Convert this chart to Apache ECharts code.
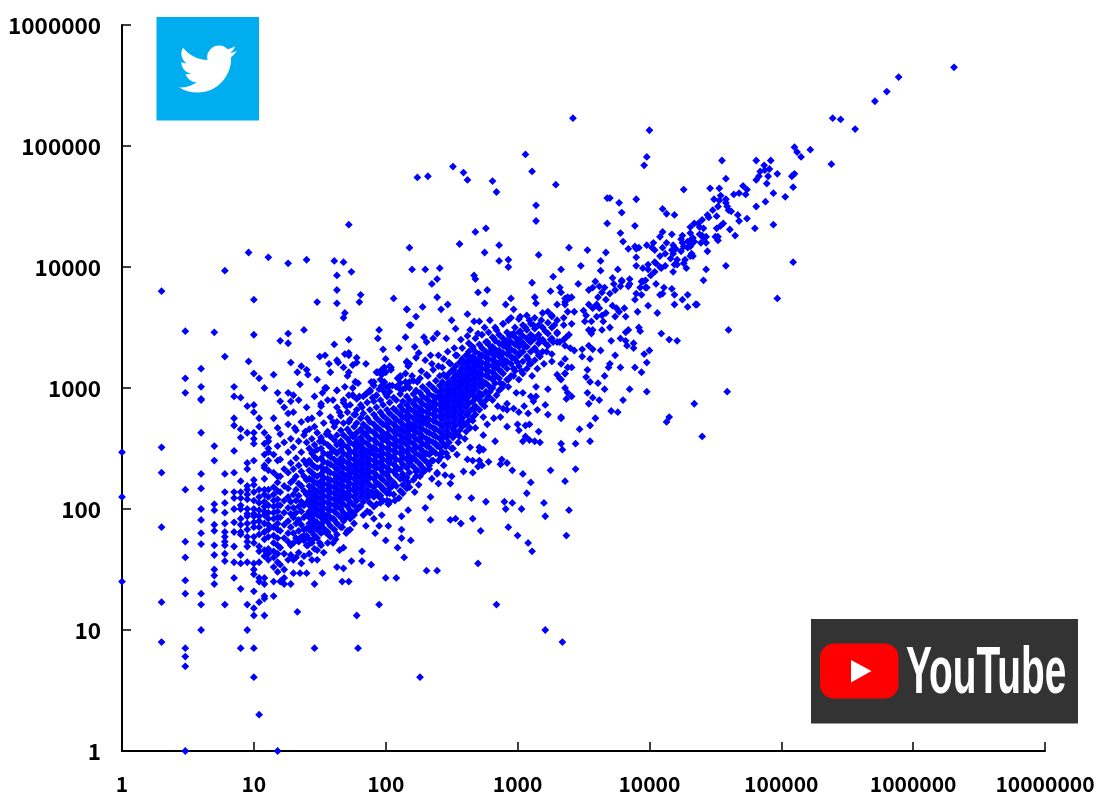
<!DOCTYPE html>
<html><head><meta charset="utf-8">
<style>html,body{margin:0;padding:0;background:#fff}#c{width:1100px;height:805px}</style>
<script src="https://cdn.jsdelivr.net/npm/echarts@6/dist/echarts.min.js"></script>
</head><body><div id="c"></div>
<script>
// Values, as decimal exponents (log10 of the value): log10(x), log10(y)
const xTickLabels=['1','10','100','1000','10000','100000','1000000','10000000'];
const yTickLabels=['1','10','100','1000','10000','100000','1000000'];
const topRight=[6.31,5.65,5.89,5.57,5.80,5.45,5.71,5.37,5.39,5.23,5.45,5.22,5.56,5.14,5.10,4.99,5.12,4.95,5.15,4.91,5.22,4.97,5.38,4.85,4.00,5.13,3.98,4.91,3.96,4.84,4.55,4.88,4.81,4.88,4.92,4.88,4.87,4.84,4.84,4.79,4.91,4.81,4.875,4.80,4.83,4.75,4.81,4.72,4.90,4.75,4.97,4.77,5.10,4.77,5.08,4.75,4.58,4.73,4.89,4.69,5.09,4.66,4.26,4.64,4.46,4.65,4.53,4.65,4.71,4.67,4.74,4.64,4.73,4.60,4.68,4.61,4.64,4.60,4.94,4.61,5.03,4.58,4.88,4.54,4.81,4.50,4.54,4.59,4.49,4.56,4.53,4.55,4.58,4.56,4.58,4.53,4.52,4.50,4.59,4.50,4.60,4.47,4.62,4.46,4.48,4.47,4.10,4.48,4.13,4.44,4.19,4.43,4.51,4.42,4.44,4.43,4.45,4.41,4.67,4.43,4.74,4.40,4.68,4.38,4.94,4.35,4.80,4.32,4.61,4.31,4.56,4.36,4.54,4.34,4.51,4.32,4.40,4.39,4.34,4.36,4.37,4.36,4.38,4.33,4.31,4.33,4.41,4.32,4.31,4.28,4.38,4.27,4.40,4.26,4.43,4.25,4.41,4.24,4.65,4.26,4.50,4.25,4.52,4.25,4.52,4.22,4.10,4.29,4.17,4.27,4.08,4.25,4.25,4.26,4.24,4.23,4.25,4.20,4.26,4.17,4.29,4.16,4.31,4.17,4.32,4.19,4.33,4.24,4.31,4.22,4.29,4.21,4.34,4.21,4.39,4.20,4.43,4.20,4.44,4.13,4.03,4.20,3.98,4.18,4.02,4.16,4.04,4.14,4.10,4.16,4.13,4.20,4.18,4.18,4.17,4.14,4.20,4.15,4.24,4.13,4.12,4.11,4.08,4.09,4.18,4.11,4.16,4.07,4.21,4.06,4.27,4.06,4.26,4.03,4.31,4.09,4.33,4.09,4.32,4.11,4.04,4.04,3.99,4.02,4.05,4.03,4.08,4.00,4.12,4.01,4.09,3.99,4.04,3.96,3.95,3.99,3.99,3.98,4.19,4.02,4.21,4.02,4.28,3.99,4.43,3.98,4.58,4.01,5.09,4.04,4.18,3.96,4.41,3.89,4.01,3.93,3.97,3.89,3.94,3.88,4.05,3.86,4.11,3.83,4.17,3.82,3.97,3.83];
const rightLower=[4.97,3.74,4.60,3.48,4.59,2.97,4.34,2.87,4.40,2.60,4.15,2.76,4.13,2.72,4.19,3.77,4.29,3.77,4.25,3.73,4.19,3.69,4.29,3.67,4.35,3.69,4.36,3.69,4.06,3.62,3.99,3.68,3.91,3.63,4.09,3.45,4.15,3.40,4.21,3.39,3.92,3.50,3.93,3.47,3.84,3.48,3.82,3.46,3.70,3.50,3.64,3.48,3.71,3.39,3.78,3.41,3.82,3.39,3.83,3.35,3.88,3.37,3.88,3.33,4.00,3.31,3.96,3.28,3.98,3.21,3.94,3.13,3.89,3.17,3.78,3.17,3.74,3.27,3.70,3.20,3.69,3.17,3.63,3.31,3.55,3.24,3.49,3.26,3.49,3.32,3.54,3.35,3.57,3.32,3.53,3.15,3.52,3.09,3.55,3.05,3.61,3.04,3.66,3.10,3.66,2.99,3.85,2.99,3.98,2.97,3.53,2.96,3.57,2.92,3.54,2.87,3.62,2.90,3.80,2.90,3.41,2.93,3.37,2.91,3.36,3.00,3.38,2.96,3.71,2.81,3.76,2.80,3.59,2.75,3.55,2.69,3.47,2.66,3.44,2.54,3.55,2.56,3.33,2.75,3.33,2.54,3.34,2.49,3.44,2.33,3.39,3.74,3.36,3.69,3.38,3.63,3.43,3.63,3.35,3.58,3.35,3.52,3.41,3.53,3.39,3.44,3.35,3.40,3.36,3.35,3.40,3.33,3.43,3.31,3.36,3.24,3.38,3.17,3.41,3.17,3.36,3.12,3.33,3.07,3.46,3.86,3.54,3.81,3.57,3.83,3.62,3.84,3.66,3.83,3.64,3.79,3.61,3.75,3.67,3.73,3.70,3.78,3.74,3.81,3.78,3.84,3.73,3.86,3.79,3.88,3.85,3.86,3.84,3.84,3.93,3.83,3.98,3.83,3.90,3.78,3.89,3.73,3.94,3.77,3.95,3.88,4.08,3.77,4.10,3.78,3.54,3.69,3.60,3.69,3.62,3.66,3.57,3.66,3.50,3.64,3.52,3.60,3.51,3.55,3.56,3.55,3.60,3.59,3.64,3.60,3.67,3.62,3.65,3.55,3.74,3.59,3.72,3.68,3.75,3.66,3.77,3.63,3.81,3.66,3.82,3.59,3.57,3.48,3.54,3.48,3.56,3.45];
const upperMiddle=[3.42,5.23,3.06,4.93,3.11,4.79,2.51,4.83,2.59,4.78,2.62,4.72,2.24,4.74,2.32,4.75,2.81,4.71,2.84,4.62,3.29,4.68,3.14,4.51,3.14,4.38,3.68,4.57,3.70,4.57,3.77,4.53,3.90,4.56,3.79,4.45,3.68,4.36,3.89,4.34,3.78,4.28,3.80,4.21,3.84,4.15,3.89,4.17,3.90,4.15,3.92,4.16,3.90,4.08,3.90,4.01,3.67,4.12,3.63,4.05,3.53,4.14,3.39,4.16,3.16,4.10,2.86,4.18,2.75,4.12,2.86,4.05,2.93,4.06,2.93,4.00,2.68,4.29,2.76,4.32,2.56,4.19,2.18,4.16,2.20,3.98,2.30,3.98,2.41,3.99,2.39,3.90,2.35,3.86,2.39,3.75,2.67,3.93,2.68,3.90,2.70,3.79,2.77,3.81,2.95,3.74,3.11,3.87,3.13,3.75,3.25,3.80,3.27,3.92,3.33,3.98,3.48,4.01,3.63,3.97,3.76,3.98,3.72,3.91,3.59,3.88,3.32,3.83,3.33,3.79,3.38,3.75,3.41,3.75,3.36,3.74,3.85,3.90,3.79,3.89];
const upperLeft=[1.72,4.35,0.96,4.12,1.11,4.08,1.26,4.03,1.40,4.06,1.61,4.05,1.68,4.04,1.74,3.96,1.63,3.93,0.78,3.97,0.30,3.80,1.63,3.81,1.00,3.73,1.48,3.71,1.63,3.70,1.81,3.77,1.80,3.71,2.06,3.74,2.16,3.65,1.69,3.62,1.68,3.58,0.48,3.47,0.70,3.46,1.00,3.44,1.26,3.45,1.20,3.39,1.26,3.37,1.38,3.48,1.95,3.48,1.94,3.41,2.15,3.42,1.72,3.40,1.61,3.36,1.98,3.32,2.10,3.33,2.18,3.52,0.78,3.26,1.50,3.26,1.54,3.27,1.69,3.28,1.72,3.29,1.72,3.27,1.78,3.25,1.78,3.21,0.96,3.22,1.28,3.21,1.63,3.23,1.64,3.21,1.57,3.20,1.85,3.20,2.00,3.24,1.75,3.19,1.68,3.17,2.04,3.17,2.16,3.21,2.17,3.18,1.36,3.18,1.33,3.13,1.40,3.15,1.41,3.11,1.58,3.13,1.72,3.13,1.71,3.10,0.60,3.16,1.00,3.12,1.04,3.08,1.15,3.11,0.48,3.08,1.48,3.07,1.94,3.13,1.97,3.15,1.99,3.17,2.00,3.13,1.91,3.05,1.91,3.02,1.96,3.07,1.99,3.05,1.97,3.02,2.01,3.01,2.03,3.02,2.09,3.08,2.11,3.10,2.15,3.12,2.11,3.04,2.16,3.04,2.15,3.00,2.18,3.05,1.88,2.98,1.86,2.96,1.77,3.05,1.79,3.04,1.75,3.00,1.69,3.01,1.54,3.00,1.52,2.96,1.35,3.03,1.08,3.00,0.85,3.01,0.60,3.01,0.48,2.96,0.60,2.91,0.85,2.93,0.90,2.92,1.18,2.96,1.26,2.96,1.30,2.94,1.63,2.98,1.75,2.94,1.72,2.94,1.20,2.89,1.28,2.89,1.23,2.84,1.26,2.79,1.41,2.74,1.31,2.67,1.18,2.67];
const lowRight=[2.84,1.21,3.21,1.00,3.34,0.90,2.26,0.61,1.79,0.85,1.46,0.85,1.78,1.12,1.95,1.21,1.33,1.15,1.18,0,2.00,1.43,2.08,1.43,2.31,1.49,2.39,1.49,1.67,1.40,1.72,1.40,1.46,1.38,1.52,1.47,1.40,1.47,1.35,1.47,1.30,1.47,1.28,1.38,1.23,1.43,1.21,1.41,1.23,1.38,1.20,1.40,1.15,1.40,1.15,1.28,3.37,1.78,3.11,1.65,3.08,1.72,3.00,1.78,2.93,1.85,2.72,1.82,2.66,1.92,2.57,1.88,2.53,1.92,2.49,1.91,2.34,1.91,2.70,1.55,2.14,1.60,2.09,1.68,2.19,1.74,2.12,1.76,2.12,1.83,2.00,1.74,1.92,1.80,1.85,1.86,1.95,1.86,2.02,1.86,1.91,1.92,1.97,1.95,2.12,1.94,2.17,1.99,2.30,2.01,2.55,2.10,2.65,2.09,2.76,2.06,2.90,2.06,2.96,2.05,2.91,2.00,3.03,2.00,3.20,2.05,3.21,1.94,3.39,1.99,3.36,2.23,3.25,2.32,3.10,2.22,3.07,2.13,3.04,2.29,2.96,2.32,2.92,2.38,2.88,2.41,2.87,2.37,2.78,2.39,2.71,2.40,2.73,2.36,2.70,2.35,2.66,2.40,2.62,2.41,2.59,2.31,2.66,2.30,2.45,2.28,2.39,2.30,2.44,2.36,2.49,2.21,2.40,2.21,2.50,2.27,2.54,2.45,2.47,2.43,2.42,2.43,2.51,2.50,2.64,2.51,2.74,2.49,2.71,2.48,2.83,2.56,2.92,2.68,3.00,2.70,3.06,2.69,3.09,2.70,3.01,2.65,3.16,2.64,3.06,2.60,3.04,2.56,3.09,2.57,3.13,2.56,3.17,2.55,3.33,2.76,3.23,2.78,3.23,2.99,3.14,3.01,3.14,2.93,3.21,2.86,3.15,2.82,3.08,2.79,3.01,2.80,2.97,2.83,2.89,2.83,2.92,2.87,3.05,2.85,3.12,2.89,3.10,2.93,3.04,2.96,2.99,2.96,3.30,3.11,3.36,3.12,3.33,3.20,3.26,3.22,3.32,3.08,2.16,3.65,2.28,3.67,2.42,3.65,2.47,3.69,2.62,3.61,2.75,3.70,2.91,3.69,2.97,3.65,3.14,3.70,3.30,3.69,3.36,3.71,2.23,3.59,2.50,3.56,2.19,3.52,2.53,3.49,2.64,3.48,2.67,3.55,2.71,3.55,2.79,3.56];
const bandUpperEdge=[1.80,2.93,1.88,2.98,1.93,3.13,1.98,3.16,2.03,3.18,2.16,3.22,2.22,3.34,2.25,3.29,2.29,3.42,2.31,3.38,2.36,3.41,2.39,3.45,2.46,3.41,2.40,3.27,2.34,3.27,2.30,3.23,2.23,3.25,2.18,3.20,2.11,3.09,2.04,3.15,1.97,3.11,1.89,3.05,1.77,3.05,1.75,2.94,1.68,2.90,1.63,2.98,1.55,3.00,1.51,2.87,1.60,2.90,1.44,2.75,1.39,2.64,1.50,2.79,2.54,3.27,2.59,3.22,2.64,3.25,2.69,3.22,2.49,3.20,2.51,3.15,2.44,3.11,2.66,3.34,2.77,3.38,2.82,3.41,2.84,3.48,2.89,3.53,2.93,3.56,3.02,3.59,3.09,3.56,3.23,3.63,3.26,3.59,2.97,3.45,3.04,3.37,3.12,3.42,3.21,3.37,3.14,3.31,3.02,3.29,2.93,3.36,2.87,3.26,2.84,3.18,2.97,3.16,2.93,3.07,2.87,3.04,2.94,3.31,2.80,3.29,3.30,3.45,3.32,3.38,3.37,3.42,3.27,3.38,3.09,3.20,3.17,3.26,1.55,2.62,1.60,2.72,1.65,2.80,1.70,2.85,1.72,2.72,1.77,2.78,1.82,2.84,1.85,2.95,1.90,2.92,1.95,2.99,2.00,2.95,2.05,3.02,2.10,3.00,2.15,3.05,2.20,3.10,2.24,3.05,2.27,3.14,2.32,3.10,2.35,3.20,2.40,3.18,2.44,3.24,2.47,3.30,2.52,3.33,2.57,3.40,2.62,3.43,2.70,3.45,2.75,3.50,1.50,2.56,1.45,2.47];
const bandLowerEdge=[1.93,2.13,1.98,2.17,2.03,2.13,2.07,2.07,2.13,2.13,2.22,2.14,2.18,2.18,2.23,2.27,2.30,2.32,2.35,2.25,2.34,2.10,2.39,2.29,2.41,2.45,2.46,2.46,2.30,2.40,2.35,2.47,2.56,2.60,2.64,2.67,2.74,2.61,2.71,2.51,2.66,2.73,2.74,2.76,2.82,2.75,2.87,2.76,2.92,2.82,2.59,2.71,2.61,2.64,1.80,2.02,1.86,2.10,1.75,1.96,1.69,1.92,1.60,1.92,1.67,1.85,1.73,1.83,1.55,1.80,1.60,1.72,1.65,1.66,1.68,1.68,1.82,1.65,1.74,1.57,1.48,1.66,1.44,1.58,1.48,1.58,1.63,1.52,1.68,1.51,1.89,1.54,1.82,1.57,1.41,1.70,1.38,1.78,1.50,1.72,1.96,2.05,1.91,2.02,2.01,2.07,1.45,1.75,1.50,1.85,1.55,1.93,1.62,1.75,1.70,1.80,1.76,1.88,1.83,1.95,1.88,1.97,1.95,2.10,2.02,2.04,2.10,2.09,2.17,2.22,2.25,2.20,2.28,2.30,2.33,2.33,2.40,2.40,2.45,2.52,2.50,2.50,2.55,2.55,2.60,2.58,2.68,2.67,2.77,2.70,2.85,2.85];
const bandFill=[1.55,2.33,1.57,2.17,1.59,2.47,1.62,2.25,1.64,2.09,1.65,2.38,1.67,2.52,1.69,2.27,1.70,2.12,1.72,2.45,1.74,2.30,1.75,2.60,1.77,2.18,1.79,2.38,1.80,2.52,1.82,2.25,1.84,2.44,1.85,2.62,1.87,2.30,1.89,2.14,1.90,2.50,1.92,2.36,1.94,2.67,1.95,2.20,1.97,2.46,1.99,2.58,2.00,2.29,2.02,2.72,2.04,2.42,2.05,2.19,2.07,2.54,2.09,2.33,2.10,2.66,2.12,2.46,2.14,2.25,2.15,2.76,2.17,2.58,2.19,2.40,2.20,2.68,2.22,2.50,2.24,2.32,2.25,2.80,2.27,2.60,2.29,2.44,2.30,2.74,2.32,2.55,2.34,2.84,2.35,2.40,2.37,2.66,2.39,2.52,2.40,2.93,2.42,2.77,2.44,2.60,2.45,2.88,2.47,2.70,2.49,2.96,2.50,2.78,2.52,2.64,2.54,3.02,2.55,2.86,2.57,2.70,2.59,3.06,2.60,2.92,2.62,2.78,2.64,3.13,2.65,2.97,2.67,2.82,2.69,3.11,2.70,2.93,2.72,3.26,2.74,3.04,2.75,2.85,2.77,3.18,2.79,2.97,2.80,3.33,2.82,3.09,2.84,2.94,2.85,3.29,2.87,3.14,2.88,3.00,2.90,3.38,2.91,3.21,2.93,3.01,2.94,3.43,2.96,3.25,2.97,3.10,2.99,3.37,3.00,3.21,3.02,3.47,3.03,3.14,3.05,3.34,3.06,3.50,3.08,3.24,3.09,3.39,3.11,3.10,3.12,3.52,3.15,3.16,3.17,3.40,3.18,3.56,3.20,3.20,3.21,3.47,3.22,3.30,3.25,3.40,3.28,3.52];
// columns at small whole-number x: [log10(x), log10(y)...]
const lowColumns=[
[0,2.47,2.10,1.40],
[0.30,2.51,2.30,1.85,1.23,0.90],
[0.48,2.16,1.73,1.60,1.41,1.30,0.85,0.78,0.70,0],
[0.60,2.90,2.63,2.29,2.17,2.00,1.91,1.80,1.71,1.30,1.21,1.00],
[0.70,2.52,2.40,2.04,1.99,1.87,1.82,1.70,1.62,1.50,1.45,1.38],
[0.78,2.29,2.14,2.05,1.97,1.88,1.81,1.77,1.73,1.70,1.63,1.57,1.21],
[0.85,2.75,2.69,2.48,2.30,2.14,2.09,2.00,1.89,1.81,1.69,1.56,1.43],
[0.90,2.66,2.59,2.23,2.14,2.09,2.03,2.00,1.92,1.87,1.81,1.79,1.62,1.55,1.34,0.85],
[0.95,2.85,2.63,2.38,2.33,2.19,2.16,2.12,2.08,2.00,1.96,1.94,1.88,1.83,1.77,1.73,1.69,1.56,1.21,1.00],
[1.00,2.86,2.80,2.63,2.58,2.54,2.40,2.24,2.20,2.14,2.07,2.00,1.96,1.94,1.89,1.85,1.77,1.72,1.55,1.50,1.46,1.32,1.18,1.12,0.85,0.61],
[1.04,2.75,2.68,2.16,2.10,2.05,1.99,1.94,1.90,1.85,1.79,1.69,1.65,1.56,1.43,1.40,1.23,0.30],
[1.08,2.63,2.54,2.45,2.36,2.34,2.25,2.16,2.12,2.06,2.02,1.98,1.95,1.88,1.81,1.75,1.66,1.61,1.43,1.38,1.28,1.26,1.12],
[1.11,2.59,2.56,2.50,2.47,2.40,2.32,2.16,2.10,2.03,1.97,1.92,1.87,1.83,1.77,1.67,1.63,1.58],
[1.15,2.75,2.45,2.30,2.18,2.12,2.07,2.02,1.97,1.92,1.85,1.78,1.72,1.65,1.60,1.52],
[1.18,2.52,2.40,2.27,2.22,2.15,2.08,2.03,1.98,1.93,1.88,1.83,1.76,1.70,1.63,1.56,1.48]];
// dense band: [log10(x), log10(y)...]
const bandA=[
[1.20,2.62,2.41,2.27,2.14,2.03,1.93,1.82,1.68,1.54],
[1.23,2.55,2.33,2.19,2.07,1.97,1.87,1.76,1.63,1.50],
[1.26,2.70,2.47,2.30,2.17,2.10,2.01,1.90,1.80,1.73,1.58],
[1.28,2.58,2.38,2.22,2.06,1.96,1.85,1.70,1.62],
[1.30,2.80,2.51,2.33,2.24,2.12,2.01,1.93,1.80,1.72,1.58],
[1.32,2.65,2.42,2.27,2.16,2.07,1.97,1.88,1.76,1.60],
[1.34,2.90,2.56,2.36,2.21,2.11,2.02,1.91,1.82,1.73,1.64],
[1.36,2.72,2.47,2.31,2.19,2.06,1.98,1.87,1.77,1.55],
[1.38,2.61,2.40,2.27,2.15,2.03,1.93,1.83,1.74,1.61],
[1.40,2.84,2.55,2.37,2.24,2.12,2.05,1.95,1.84,1.78,1.70],
[1.42,2.66,2.50,2.40,2.32,2.25,2.19,2.14,2.08,2.03,1.98,1.93,1.88,1.83,1.75,1.63],
[1.44,2.58,2.46,2.37,2.30,2.24,2.18,2.12,2.07,2.02,1.97,1.92,1.87,1.81,1.72],
[1.46,2.93,2.68,2.53,2.43,2.35,2.28,2.22,2.16,2.11,2.06,2.01,1.96,1.90,1.85,1.78,1.67],
[1.48,2.63,2.49,2.41,2.34,2.27,2.21,2.15,2.10,2.05,2.00,1.95,1.89,1.83,1.76],
[1.51,2.85,2.59,2.50,2.42,2.35,2.29,2.23,2.18,2.13,2.08,2.03,1.98,1.93,1.87,1.80,1.70],
[1.53,2.71,2.55,2.46,2.39,2.32,2.26,2.21,2.16,2.11,2.06,2.01,1.96,1.90,1.84,1.64],
[1.56,2.90,2.64,2.53,2.45,2.38,2.31,2.25,2.20,2.15,2.10,2.05,2.00,1.95,1.89,1.81,1.72],
[1.58,2.76,2.60,2.51,2.43,2.37,2.30,2.24,2.19,2.14,2.09,2.04,1.99,1.93,1.86,1.77],
[1.61,2.68,2.57,2.48,2.41,2.35,2.29,2.23,2.18,2.13,2.08,2.03,1.98,1.91,1.83],
[1.63,2.84,2.72,2.61,2.53,2.46,2.39,2.33,2.27,2.22,2.17,2.12,2.07,2.02,1.96,1.88,1.79],
[1.66,2.77,2.65,2.56,2.49,2.42,2.36,2.30,2.25,2.20,2.15,2.10,2.05,2.00,1.93,1.85],
[1.68,2.88,2.71,2.61,2.53,2.46,2.40,2.34,2.29,2.24,2.19,2.14,2.09,2.04,1.97,1.90],
[1.71,2.80,2.66,2.58,2.51,2.44,2.38,2.33,2.28,2.23,2.18,2.13,2.08,2.02,1.95,1.82],
[1.73,2.86,2.74,2.63,2.55,2.48,2.42,2.37,2.32,2.26,2.21,2.16,2.11,2.06,1.99,1.92],
[1.76,2.78,2.68,2.60,2.53,2.47,2.41,2.35,2.30,2.25,2.20,2.15,2.10,2.03,1.95],
[1.78,2.91,2.82,2.71,2.63,2.56,2.50,2.44,2.38,2.33,2.28,2.23,2.18,2.13,2.07,1.99]];
const bandB=[
[1.81,2.86,2.75,2.66,2.59,2.53,2.47,2.41,2.36,2.31,2.26,2.21,2.16,2.10,2.02],
[1.83,2.93,2.79,2.70,2.63,2.56,2.50,2.44,2.39,2.34,2.29,2.24,2.19,2.13,2.06],
[1.86,2.88,2.75,2.67,2.60,2.54,2.48,2.42,2.37,2.32,2.27,2.22,2.16,2.09,1.98],
[1.88,2.97,2.82,2.72,2.65,2.58,2.52,2.46,2.41,2.36,2.31,2.26,2.20,2.13,2.05],
[1.91,2.89,2.78,2.70,2.63,2.57,2.51,2.45,2.40,2.35,2.30,2.25,2.18,2.10],
[1.93,2.94,2.84,2.75,2.67,2.61,2.55,2.49,2.44,2.39,2.34,2.28,2.22,2.14,2.04],
[1.96,2.90,2.80,2.72,2.65,2.59,2.53,2.48,2.43,2.38,2.33,2.26,2.19,2.11],
[1.98,2.98,2.86,2.77,2.70,2.63,2.57,2.51,2.46,2.41,2.36,2.30,2.24,2.16,2.07],
[2.01,2.93,2.82,2.74,2.68,2.62,2.56,2.50,2.45,2.40,2.34,2.28,2.21,2.13],
[2.03,2.97,2.88,2.79,2.72,2.66,2.60,2.54,2.49,2.44,2.38,2.32,2.25,2.17,2.06],
[2.06,2.92,2.83,2.76,2.70,2.64,2.58,2.53,2.48,2.43,2.37,2.31,2.22,2.12],
[2.08,3.01,2.90,2.81,2.74,2.68,2.62,2.57,2.52,2.47,2.41,2.35,2.28,2.19],
[2.11,2.95,2.85,2.78,2.72,2.66,2.61,2.56,2.51,2.46,2.40,2.33,2.25,2.15],
[2.13,2.99,2.89,2.82,2.76,2.70,2.65,2.60,2.55,2.49,2.43,2.37,2.29,2.20],
[2.16,2.93,2.86,2.80,2.74,2.68,2.63,2.58,2.53,2.47,2.41,2.34,2.26,2.17],
[2.18,3.00,2.90,2.83,2.77,2.71,2.66,2.61,2.56,2.50,2.44,2.38,2.30],
[2.21,3.06,2.95,2.87,2.81,2.75,2.70,2.65,2.60,2.54,2.48,2.42,2.35,2.24],
[2.23,2.98,2.91,2.85,2.79,2.74,2.69,2.64,2.58,2.52,2.46,2.40,2.31],
[2.26,3.08,2.96,2.89,2.83,2.77,2.72,2.67,2.62,2.56,2.50,2.44,2.37,2.27],
[2.28,3.01,2.93,2.87,2.81,2.76,2.71,2.66,2.60,2.54,2.48,2.42,2.34],
[2.31,3.11,2.98,2.91,2.85,2.80,2.75,2.70,2.64,2.58,2.52,2.46,2.39],
[2.33,3.03,2.95,2.89,2.84,2.79,2.74,2.69,2.63,2.57,2.51,2.45,2.36],
[2.36,3.15,3.00,2.93,2.88,2.83,2.78,2.73,2.67,2.61,2.55,2.48,2.40],
[2.38,3.06,2.98,2.92,2.87,2.82,2.77,2.72,2.66,2.60,2.54,2.46],
[2.41,3.10,3.02,2.96,2.91,2.86,2.81,2.76,2.70,2.64,2.58,2.51],
[2.43,3.17,3.05,2.99,2.94,2.89,2.84,2.79,2.74,2.68,2.62,2.55,2.47],
[2.46,3.09,3.02,2.97,2.92,2.87,2.82,2.77,2.71,2.65,2.59,2.52]];
const bandC=[
[2.48,3.21,3.12,3.05,3.00,2.95,2.90,2.85,2.80,2.75,2.69,2.62,2.55],
[2.51,3.15,3.08,3.03,2.98,2.93,2.88,2.83,2.78,2.72,2.66,2.59],
[2.53,3.27,3.18,3.11,3.06,3.01,2.96,2.91,2.86,2.81,2.75,2.69,2.62],
[2.56,3.21,3.14,3.09,3.04,2.99,2.94,2.89,2.84,2.78,2.72,2.65],
[2.58,3.33,3.24,3.17,3.12,3.07,3.02,2.97,2.92,2.87,2.81,2.75,2.68],
[2.61,3.27,3.20,3.15,3.10,3.05,3.00,2.95,2.90,2.84,2.78,2.70],
[2.63,3.37,3.30,3.23,3.18,3.13,3.08,3.03,2.98,2.93,2.87,2.80,2.73],
[2.66,3.33,3.26,3.21,3.16,3.11,3.06,3.01,2.95,2.89,2.83,2.76],
[2.68,3.41,3.30,3.24,3.19,3.14,3.09,3.04,2.99,2.92,2.85,2.78],
[2.71,3.36,3.28,3.22,3.17,3.12,3.07,3.02,2.96,2.90,2.82],
[2.73,3.44,3.33,3.27,3.21,3.16,3.11,3.06,3.01,2.94,2.87],
[2.76,3.38,3.30,3.25,3.20,3.15,3.10,3.04,2.97,2.90],
[2.78,3.46,3.36,3.29,3.24,3.19,3.14,3.09,3.02,2.93],
[2.81,3.42,3.34,3.28,3.23,3.18,3.13,3.07,3.00,2.90],
[2.83,3.50,3.39,3.32,3.27,3.22,3.17,3.11,3.04],
[2.86,3.44,3.37,3.31,3.26,3.21,3.15,3.08,2.98],
[2.89,3.53,3.41,3.35,3.29,3.24,3.19,3.12,3.03],
[2.92,3.46,3.39,3.33,3.28,3.22,3.16,3.07],
[2.95,3.58,3.44,3.38,3.32,3.26,3.20,3.10],
[2.98,3.50,3.42,3.36,3.30,3.24,3.14],
[3.01,3.57,3.46,3.40,3.34,3.27,3.18,3.07],
[3.04,3.52,3.43,3.37,3.30,3.22,3.12],
[3.07,3.60,3.48,3.41,3.34,3.26,3.16],
[3.10,3.53,3.44,3.38,3.30,3.20],
[3.13,3.58,3.49,3.41,3.33,3.23],
[3.16,3.52,3.44,3.37,3.27],
[3.19,3.62,3.50,3.40,3.30],
[3.23,3.54,3.45,3.35],
[3.26,3.60,3.50,3.41,3.28],
[3.30,3.56,3.46,3.38]];
const toPoints=f=>{const o=[];for(let i=0;i<f.length;i+=2)o.push([10**f[i],10**f[i+1]]);return o;};
const fromColumns=t=>t.flatMap(r=>r.slice(1).map(v=>[10**r[0],10**v]));
const points=[...toPoints(topRight),...toPoints(rightLower),...toPoints(upperMiddle),...toPoints(upperLeft),...toPoints(lowRight),...toPoints(bandUpperEdge),...toPoints(bandLowerEdge),...toPoints(bandFill),...fromColumns(lowColumns),...fromColumns(bandA),...fromColumns(bandB),...fromColumns(bandC)];
const birdPath="M23.953 4.57 a10 10 0 0 1 -2.825 .775 a4.958 4.958 0 0 0 2.163 -2.723 c-.951 .555 -2.005 .959 -3.127 1.184 a4.92 4.92 0 0 0 -8.384 4.482 C7.69 8.095 4.067 6.13 1.64 3.162 a4.822 4.822 0 0 0 -.666 2.475 c0 1.71 .87 3.213 2.188 4.096 a4.904 4.904 0 0 1 -2.228 -.616 v.06 a4.923 4.923 0 0 0 3.946 4.827 a4.996 4.996 0 0 1 -2.212 .085 a4.936 4.936 0 0 0 4.604 3.417 a9.867 9.867 0 0 1 -6.102 2.105 c-.39 0 -.779 -.023 -1.17 -.067 a13.995 13.995 0 0 0 7.557 2.209 c9.053 0 13.998 -7.496 13.998 -13.985 c0 -.21 0 -.42 -.015 -.63 A9.935 9.935 0 0 0 24 4.59 z";
echarts.graphic.registerShape('bird',echarts.graphic.extendPath(birdPath,{}));
const tickFmt=labels=>v=>labels[Math.round(Math.log10(v))];
const axisBase={type:'log',logBase:10,min:1,splitLine:{show:false},
 axisLine:{show:true,lineStyle:{color:'#000',width:2}},
 axisTick:{show:true,inside:true,length:9,lineStyle:{color:'#000',width:1.5}},minorTick:{show:false}};
const chart=echarts.init(document.getElementById('c'),null,{renderer:'canvas'});
chart.setOption({animation:false,backgroundColor:'#fff',
 grid:{left:122,right:55,top:25,bottom:54,containLabel:false},
 xAxis:{...axisBase,max:1e7,axisLabel:{margin:23,fontFamily:'Noto Sans CJK JP',fontWeight:'bold',fontSize:21,color:'#000',formatter:tickFmt(xTickLabels),hideOverlap:false}},
 yAxis:{...axisBase,max:1e6,axisLabel:{margin:21,padding:[5,0,0,0],fontFamily:'Noto Sans CJK JP',fontWeight:'bold',fontSize:22.5,color:'#000',formatter:tickFmt(yTickLabels),hideOverlap:false}},
 series:[{type:'scatter',data:points,symbol:'diamond',symbolSize:7.8,clip:false,itemStyle:{color:'#0000ff',opacity:1},large:false}],
 graphic:[
  {type:'rect',shape:{x:156.5,y:17,width:102.5,height:103.5},style:{fill:'#00adef'},z:10},
  {type:'bird',x:179,y:40,scaleX:2.417,scaleY:2.417,style:{fill:'#fff'},z:11},
  {type:'rect',shape:{x:811,y:619,width:267,height:104.5},style:{fill:'#333'},z:10},
  {type:'rect',shape:{x:820,y:643.5,width:78.5,height:55,r:14},style:{fill:'#f00'},z:11},
  {type:'polygon',shape:{points:[[851,660],[871.5,671],[851,682.5]]},style:{fill:'#fff'},z:12},
  {type:'text',x:906,y:641,scaleX:0.58,style:{text:'YouTube',x:0,y:0,fill:'#fff',font:'bold 67px "Liberation Sans"',textAlign:'left',textVerticalAlign:'top'},z:12}
 ]});
</script></body></html>
